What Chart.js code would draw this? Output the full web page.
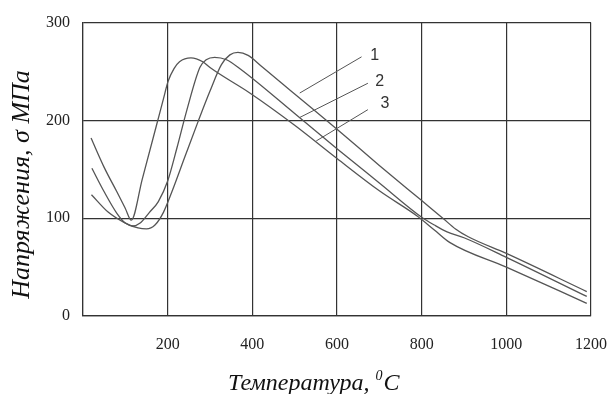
<!DOCTYPE html>
<html>
<head>
<meta charset="utf-8">
<script src="https://cdn.jsdelivr.net/npm/chart.js@4.4.1/dist/chart.umd.min.js"></script>
<style>
  html,body{margin:0;padding:0;background:#fff;}
  #wrap{width:608px;height:394px;}
</style>
</head>
<body>
<div id="wrap"><canvas id="chart" width="608" height="394"></canvas></div>
<script>
// curve 1 (rightmost peak, upper line at high temperature)
const temp1 = [20, 60, 100, 130, 150, 170, 190, 210, 240, 272, 300, 327, 347, 366, 390, 420, 500, 600, 700, 800, 850, 880, 910, 1000, 1190];
const stress1 = [124, 106, 95, 90, 89, 93, 106, 127, 162, 199, 230, 257, 267, 269.5, 266.5, 256, 227, 191, 154, 118, 100, 89, 81, 64, 25];
// curve 2
const temp2 = [21, 50, 80, 100, 118, 135, 157, 178, 200, 222, 245, 276, 291, 311, 339, 370, 500, 600, 700, 800, 830, 860, 900, 1000, 1190];
const stress2 = [151, 127, 105, 95, 92, 95, 106, 117, 138, 172, 210, 254, 262, 264.5, 262, 253, 207, 171, 136, 101, 93, 86, 80, 60, 20];
// curve 3 (leftmost peak)
const temp3 = [19, 50, 80, 100, 114, 140, 173, 190, 201, 215, 228, 255, 283, 300, 394, 500, 600, 700, 790, 830, 867, 1000, 1190];
const stress3 = [182, 152, 127, 110, 98, 140, 194, 222, 240, 253, 260, 264, 260, 254, 228, 195, 161, 128, 102, 88, 75, 50, 13];

// leader lines and curve numbers
const leaderT = [[512, 658], [512, 673], [551, 673]];
const leaderS = [[228, 265], [203, 238], [179, 211]];
const labelNames = ["1", "2", "3"];
const labelT = [689, 701, 713];
const labelS = [266, 240, 217];

const xTicks = [0, 200, 400, 600, 800, 1000, 1200];
const yTicks = [0, 100, 200, 300];

const xTitle = ["Температура, ", "0", "C"];
const yTitle = "Напряжения, σ МПа";

const pts = (t, s) => t.map((v, i) => ({x: v, y: s[i]}));

const curveStyle = {borderColor: "#555", borderWidth: 1.3, pointRadius: 0, fill: false, cubicInterpolationMode: "monotone"};
const datasets = [
  Object.assign({label: "1", data: pts(temp1, stress1)}, curveStyle),
  Object.assign({label: "2", data: pts(temp2, stress2)}, curveStyle),
  Object.assign({label: "3", data: pts(temp3, stress3)}, curveStyle),
];
leaderT.forEach((t, i) => {
  datasets.push({label: "leader" + i, data: pts(t, leaderS[i]), borderColor: "#555", borderWidth: 1, pointRadius: 0, fill: false, tension: 0});
});

const serif = "'Liberation Serif', 'Times New Roman', serif";

// curve numbers + axis titles (the x title needs a raised 0)
const annotate = {
  id: "annotate",
  afterDraw(chart){
    const {ctx, scales:{x, y}} = chart;
    ctx.save();
    ctx.fillStyle = "#333";
    ctx.font = "16px 'Liberation Sans', Arial, sans-serif";
    ctx.textAlign = "center";
    ctx.textBaseline = "middle";
    labelNames.forEach((n, i) => ctx.fillText(n, x.getPixelForValue(labelT[i]), y.getPixelForValue(labelS[i])));

    ctx.fillStyle = "#111";
    ctx.textAlign = "left";
    ctx.textBaseline = "alphabetic";
    let cx = 228;
    const base = 390;
    ctx.font = "italic 24px " + serif;
    ctx.fillText(xTitle[0], cx, base);
    cx += ctx.measureText(xTitle[0]).width;
    ctx.font = "italic 14px " + serif;
    ctx.fillText(xTitle[1], cx, base - 10);
    cx += ctx.measureText(xTitle[1]).width + 1;
    ctx.font = "italic 24px " + serif;
    ctx.fillText(xTitle[2], cx, base);

    ctx.translate(22.5, 184.5);
    ctx.rotate(-Math.PI / 2);
    ctx.textAlign = "center";
    ctx.textBaseline = "middle";
    ctx.font = "italic 26px " + serif;
    ctx.fillText(yTitle, 0, 0);
    ctx.restore();
  }
};

new Chart(document.getElementById("chart"), {
  type: "line",
  data: {datasets},
  options: {
    responsive: false,
    animation: false,
    devicePixelRatio: 1,
    layout: {padding: {top: 21, right: 17, bottom: 0, left: 0}},
    plugins: {legend: {display: false}, tooltip: {enabled: false}},
    scales: {
      x: {
        type: "linear", min: 0, max: 1200,
        afterBuildTicks: s => { s.ticks = xTicks.map(v => ({value: v})); },
        afterFit: s => { s.height = 78; s.paddingRight = 0; s.paddingLeft = 0; },
        grid: {color: "#333", lineWidth: 1.2, drawTicks: false},
        border: {color: "#333", width: 1.2},
        ticks: {autoSkip: false, maxRotation: 0, padding: 19, color: "#222", font: {family: serif, size: 16},
          callback: v => v === 0 ? "" : v}
      },
      y: {
        min: 0, max: 300,
        afterBuildTicks: s => { s.ticks = yTicks.map(v => ({value: v})); },
        afterFit: s => { s.width = 83; },
        grid: {color: "#333", lineWidth: 1.2, drawTicks: false},
        border: {color: "#333", width: 1.2},
        ticks: {padding: 13, color: "#222", font: {family: serif, size: 16}}
      }
    }
  },
  plugins: [annotate]
});
</script>
</body>
</html>
